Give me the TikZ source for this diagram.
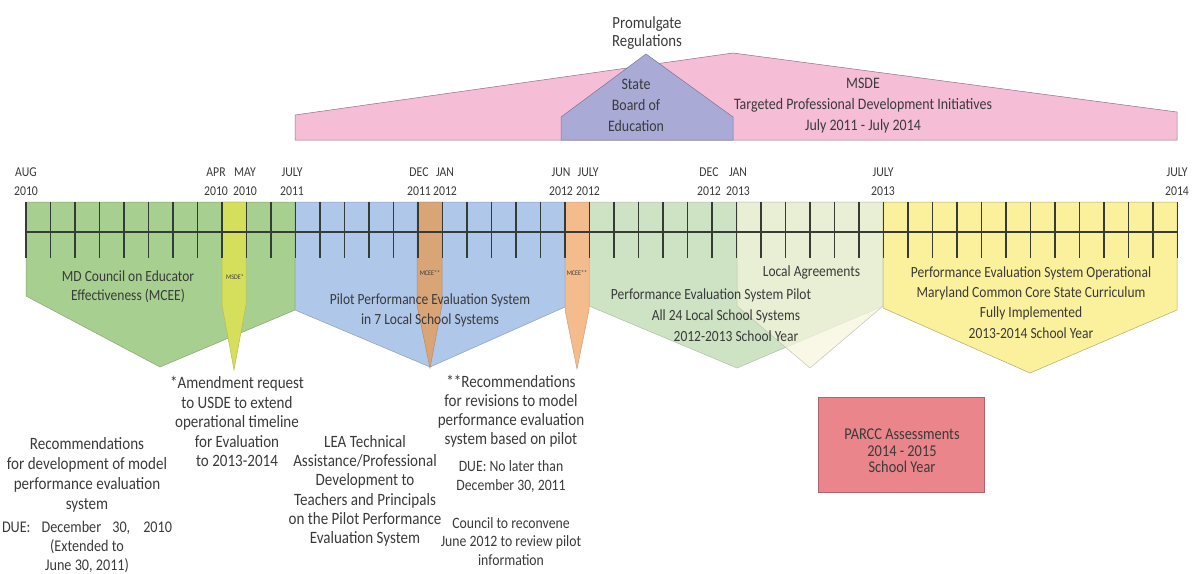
\documentclass[tikz,border=0pt]{standalone}
\usepackage{fontspec}
\setmainfont[FakeStretch=0.87]{Carlito}
\definecolor{txtc}{HTML}{3A3A3A}
\definecolor{mceeg}{HTML}{A7CF8F}
\definecolor{spikey}{HTML}{D6DF5C}
\definecolor{bluec}{HTML}{AFC7E9}
\definecolor{orgA}{HTML}{D9A576}
\definecolor{orgB}{HTML}{F4BB8D}
\definecolor{pilotg}{HTML}{CDE3C3}
\definecolor{lac}{HTML}{F6F5DC}
\definecolor{yelc}{HTML}{FBF19C}
\definecolor{pinkc}{HTML}{F5BDD6}
\definecolor{purc}{HTML}{A9ABD6}
\definecolor{parccc}{HTML}{E9858B}
\definecolor{tickc}{HTML}{353B35}
\begin{document}
\begin{tikzpicture}[x=1pt,y=-1pt,
  txt/.style={text=txtc, align=center, inner sep=0pt},
  mon/.style={txt, font=\fontsize{13.5}{19}\selectfont},
  shp/.style={txt, font=\fontsize{15.5}{19.5}\selectfont},
  low/.style={txt, font=\fontsize{17.3}{19.5}\selectfont},
  lows/.style={txt, font=\fontsize{15.8}{19}\selectfont},
  tiny/.style={txt, font=\fontsize{7}{8}\selectfont},
  tickline/.style={draw=tickc, line width=1.3pt},
  edge/.style={line width=0.5pt}
  ]
\useasboundingbox (0,0) rectangle (1193,573);
% top banner
\filldraw[fill=pinkc, draw=pinkc!60!black, edge] (295,140) -- (295,115) -- (733,53) -- (1177,112) -- (1177,140) -- cycle;
\filldraw[fill=purc, draw=purc!70!black, edge] (561,140) -- (561,117) -- (646,54) -- (733,117) -- (733,140) -- cycle;
\node[txt, font=\fontsize{17}{18}\selectfont] (promulgate) at (647,33) {Promulgate\\Regulations};
\node[txt, font=\fontsize{16}{21}\selectfont] (sboe) at (636,105) {State\\Board of\\Education};
\node[txt, font=\fontsize{16}{21}\selectfont] (msde) at (863,106) {MSDE\\Targeted Professional Development Initiatives\\July 2011 - July 2014};
% month labels
\node[mon] (aug10) at (26,181.5) {AUG\\2010};
\node[mon] (apr10) at (216,181.5) {APR\\2010};
\node[mon] (may10) at (245,181.5) {MAY\\2010};
\node[mon] (jul11) at (292,181.5) {JULY\\2011};
\node[mon] (dec11) at (419,181.5) {DEC\\2011};
\node[mon] (jan12) at (445,181.5) {JAN\\2012};
\node[mon] (jun12) at (561,181.5) {JUN\\2012};
\node[mon] (jul12) at (588,181.5) {JULY\\2012};
\node[mon] (dec12) at (709,181.5) {DEC\\2012};
\node[mon] (jan13) at (738,181.5) {JAN\\2013};
\node[mon] (jul13) at (883,181.5) {JULY\\2013};
\node[mon] (jul14) at (1177,181.5) {JULY\\2014};
% pentagons
\filldraw[fill=mceeg, draw=mceeg!80!black, edge] (26,202) -- (295,202) -- (295,310) -- (160,367) -- (26,296) -- cycle;
\filldraw[fill=bluec, draw=bluec!80!black, edge] (295,202) -- (565,202) -- (565,307) -- (430,367) -- (295,310) -- cycle;
\filldraw[fill=pilotg, draw=pilotg!85!black, edge] (589,202) -- (883,202) -- (883,306) -- (737,368) -- (589,306) -- cycle;
\filldraw[fill=lac, fill opacity=0.7, draw=lac!80!black, edge] (737,202) -- (883,202) -- (883,306) -- (810,368) -- (737,306) -- cycle;
\filldraw[fill=yelc, draw=yelc!70!black, edge] (883,202) -- (1177,202) -- (1177,310) -- (1030,373) -- (883,308) -- cycle;
% spikes
\filldraw[fill=spikey, draw=spikey!85!black, edge] (222,202) -- (246,202) -- (246,305) -- (234,370) -- (222,305) -- cycle;
\filldraw[fill=orgA, draw=orgA!85!black, edge] (417,202) -- (442,202) -- (442,305) -- (430,368) -- (417,305) -- cycle;
\filldraw[fill=orgB, draw=orgB!85!black, edge] (565,202) -- (589,202) -- (589,310) -- (577,369) -- (565,310) -- cycle;
% timeline
\foreach \m in {0,...,47} \draw[tickline] ({26+24.5*\m},202) -- ({26+24.5*\m},258);
\draw[draw=tickc, line width=2.2pt] (26,232) -- (1177.5,232);
% shape texts
\node[shp] (mcee) at (128,286.5) {MD Council on Educator\\Effectiveness (MCEE)};
\node[tiny] (msdestar) at (235,277) {MSDE*};
\node[tiny] (mceeA) at (430,273) {MCEE**};
\node[tiny] (mceeB) at (577,273) {MCEE**};
\node[shp, font=\fontsize{15.5}{20}\selectfont] (pilot) at (430,310) {Pilot Performance Evaluation System\\in 7 Local School Systems};
\node[shp] (pes1) at (711,295) {Performance Evaluation System Pilot};
\node[shp] (pes2) at (726,316) {All 24 Local School Systems};
\node[shp] (pes3) at (736,336) {2012-2013 School Year};
\node[shp] (local) at (811.5,272) {Local Agreements};
\node[shp, font=\fontsize{15.5}{20.3}\selectfont] (oper) at (1031,302.5) {Performance Evaluation System Operational\\Maryland Common Core State Curriculum\\Fully Implemented\\2013-2014 School Year};
% bottom texts
\node[low, font=\fontsize{17.3}{20}\selectfont] (rec) at (87,475) {Recommendations\\for development of model\\performance evaluation\\system};
\node[lows, font=\fontsize{16.3}{19}\selectfont] (due1) at (87,547) {\makebox[170pt][s]{DUE: December 30, 2010}\\(Extended to\\June 30, 2011)};
\node[low] (amend) at (237,421.5) {*Amendment request\\to USDE to extend\\operational timeline\\for Evaluation\\to 2013-2014};
\node[low, font=\fontsize{17.3}{19.3}\selectfont] (lea) at (365,491) {LEA Technical\\Assistance/Professional\\Development to\\Teachers and Principals\\on the Pilot Performance\\Evaluation System};
\node[low, font=\fontsize{17.3}{19}\selectfont] (rec2) at (511,411.5) {**Recommendations\\for revisions to model\\performance evaluation\\system based on pilot};
\node[lows] (due2) at (511,476.5) {DUE: No later than\\December 30, 2011};
\node[lows, font=\fontsize{15.8}{18.5}\selectfont] (council) at (511,541.5) {Council to reconvene\\June 2012 to review pilot\\information};
% PARCC
\node[draw=parccc!75!black, fill=parccc, line width=0.8pt, minimum width=166pt, minimum height=95pt, inner sep=0pt] (parcc) at (901,444.5) {};
\node[txt, font=\fontsize{16.5}{16.5}\selectfont] (parcctxt) at (902,451) {PARCC Assessments\\2014 - 2015\\School Year};
\end{tikzpicture}
\end{document}
